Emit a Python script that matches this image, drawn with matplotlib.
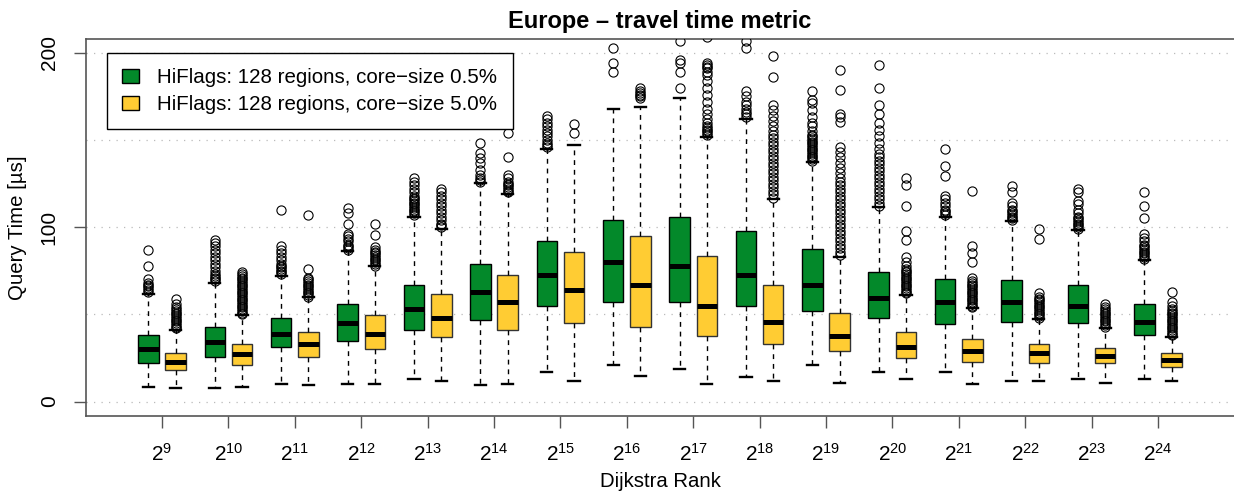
import matplotlib
matplotlib.use("Agg")
import matplotlib.pyplot as plt
from matplotlib.patches import Patch
import numpy as np

# -------------------------------------------------
# Data
# -------------------------------------------------

exponents = [9, 10, 11, 12, 13, 14, 15, 16, 17, 18, 19, 20, 21, 22, 23, 24]

# core-size 0.5% (green)
whislo_g = [8.6, 8.0, 10.1, 10.1, 12.8, 9.2, 17.0, 21.0, 18.9, 13.8, 21.0, 17.0, 17.0, 12.0, 12.8, 12.8]
q1_g = [22.0, 25.8, 31.0, 34.8, 40.9, 46.8, 55.0, 57.0, 57.0, 54.8, 51.8, 47.8, 44.5, 45.8, 44.9, 38.0]
med_g = [30.0, 34.0, 39.0, 44.9, 52.9, 62.9, 72.8, 80.1, 77.9, 72.8, 66.9, 59.4, 57.0, 57.0, 54.8, 45.8]
q3_g = [38.2, 43.0, 48.0, 56.0, 66.9, 78.9, 92.1, 103.9, 106.0, 98.0, 87.3, 74.2, 70.1, 69.7, 66.9, 56.0]
whishi_g = [61.5, 67.8, 72.0, 86.5, 106.0, 125.1, 144.8, 167.9, 173.9, 162.0, 137.5, 111.8, 106.0, 103.7, 98.4, 81.2]
fliers_g = [
    [63, 64, 65, 66, 67, 68, 70, 78, 87],
    [69, 70, 71, 72, 73, 75, 77, 79, 81, 83, 85, 87, 89, 91, 92.5],
    [73, 74, 75, 76, 77, 78, 79, 81, 83, 85, 87, 89, 110],
    [87, 88, 89, 90, 92, 93, 95, 96, 102, 108, 111],
    [107, 108, 109, 110, 111, 112, 113, 114, 115, 116, 117, 118, 120, 122, 124, 126, 128],
    [126, 127, 128, 130, 133, 137, 139.5, 142.5, 148, 164, 193],
    [146, 147, 148, 150, 152, 154, 156, 158, 160, 162, 164],
    [189, 194, 203],
    [180, 189, 194, 196, 207],
    [163, 165, 166, 168, 170, 172, 175, 178, 202.5, 207],
    [138, 139, 140, 141, 142, 143, 144, 145, 146, 147, 148, 149, 150, 151, 152, 153, 155,
     158, 160, 163, 167, 171, 173, 178],
    [112, 114, 116, 118, 120, 122, 124, 126, 128, 130, 132, 134, 136, 138, 140, 142, 145,
     148, 152, 156, 160, 165, 170, 180, 193],
    [107, 108, 109, 110, 112, 114, 116, 118, 129.5, 135, 145],
    [104, 105, 106, 107, 108, 109, 110, 112, 114, 120.3, 123.6],
    [99, 100, 101, 102, 103, 104, 105, 106, 108, 110, 113, 115, 120, 122],
    [82, 83, 84, 85, 86, 87, 88, 89, 90, 92, 94, 96, 105, 112, 120],
]

# core-size 5.0% (yellow)
whislo_y = [8.0, 8.6, 9.2, 10.1, 12.0, 10.1, 12.0, 14.9, 10.0, 12.0, 10.9, 13.0, 10.0, 12.0, 10.9, 12.0]
q1_y = [18.0, 20.8, 25.8, 30.2, 36.9, 40.9, 45.1, 43.0, 37.8, 32.9, 28.9, 24.9, 22.9, 22.0, 22.0, 19.9]
med_y = [22.9, 27.0, 32.9, 39.0, 47.8, 57.0, 64.0, 66.9, 54.8, 45.5, 37.8, 31.0, 29.1, 27.9, 26.0, 23.9]
q3_y = [28.1, 33.1, 40.0, 49.9, 61.9, 72.4, 86.0, 94.8, 83.3, 66.9, 51.0, 40.1, 35.9, 33.1, 30.9, 27.9]
whishi_y = [41.1, 49.7, 59.8, 77.8, 99.2, 119.0, 147.3, 168.9, 151.9, 116.2, 83.1, 61.1, 53.5, 47.4, 42.4, 36.9]
fliers_y = [
    [42, 43, 44, 45, 46, 47, 48, 49, 50, 51, 52, 53, 54, 56, 59],
    [50, 51, 52, 53, 54, 55, 56, 57, 58, 59, 60, 61, 62, 63, 64, 65, 66, 67, 68, 69, 70,
     71, 72, 73, 74.5],
    [60, 61, 62, 63, 64, 65, 66, 67, 68, 69, 70, 71, 76, 107],
    [78, 79, 80, 81, 82, 83, 84, 85, 86, 87, 88.5, 95.5, 102],
    [100, 101, 102, 104, 106, 108, 110, 112, 114, 116, 118, 120, 122],
    [120, 121, 122, 123, 124, 125, 126, 128, 130, 140, 154, 165],
    [154, 159],
    [174, 175, 176, 177, 178, 179.7],
    [153, 154, 155, 156, 157, 158, 160, 162, 165, 168, 172, 176, 180, 184, 187, 189, 191,
     192, 193, 194, 209],
    [117, 119, 121, 123, 125, 127, 129, 131, 133, 135, 137, 139, 141, 143, 145, 147, 149,
     151, 153, 155, 158, 161, 164, 167, 170, 186, 198],
    [84, 86, 88, 90, 92, 94, 96, 98, 100, 102, 104, 106, 108, 110, 112, 114, 116, 118, 120,
     122, 124, 126, 128, 131, 134, 137, 140, 143, 146, 160.5, 163, 165, 178.6, 190],
    [62, 63, 64, 65, 66, 67, 68, 69, 70, 71, 72, 73, 74, 75, 76, 78, 80, 83, 92.7, 97.8,
     112, 124, 128.4],
    [54, 55, 56, 57, 58, 59, 60, 61, 62, 63, 64, 65, 66, 67, 68, 69, 71, 80, 85, 89, 121],
    [48, 49, 50, 51, 52, 53, 54, 55, 56, 57, 58, 59, 60, 62, 93, 99],
    [43, 44, 45, 46, 47, 48, 49, 50, 51, 52, 53, 54, 56],
    [38, 39, 40, 41, 42, 43, 44, 45, 46, 47, 48, 49, 50, 51, 52, 53, 55, 57, 63],
]

series_labels = ["HiFlags: 128 regions, core\u2212size 0.5%",
                 "HiFlags: 128 regions, core\u2212size 5.0%"]

# -------------------------------------------------
# Style
# -------------------------------------------------

plt.rcParams.update({
    "font.family": ["Liberation Sans", "DejaVu Sans"],
    "mathtext.fontset": "custom",
    "mathtext.rm": "Liberation Sans",
    "mathtext.it": "Liberation Sans:italic",
    "mathtext.bf": "Liberation Sans:bold",
})

green = "#03892A"
yellow = "#FFCC33"
frame_col = "#555555"

fig = plt.figure(figsize=(12.34, 4.98), dpi=100)
ax = fig.add_axes([86 / 1234, 1 - 416 / 498, 1148 / 1234, 377 / 498])


def make_stats(lo, q1, med, q3, hi, fl):
    return [dict(whislo=a, q1=b, med=c, q3=d, whishi=e, fliers=f)
            for a, b, c, d, e, f in zip(lo, q1, med, q3, hi, fl)]


pos = np.arange(len(exponents))
offset = 0.205
bw = 0.31

for stats, shift, col, edge in [
    (make_stats(whislo_g, q1_g, med_g, q3_g, whishi_g, fliers_g), -offset, green, "black"),
    (make_stats(whislo_y, q1_y, med_y, q3_y, whishi_y, fliers_y), offset, yellow, "#333333"),
]:
    ax.bxp(
        stats,
        positions=pos + shift,
        widths=bw,
        capwidths=0.17,
        patch_artist=True,
        manage_ticks=False,
        boxprops=dict(facecolor=col, edgecolor=edge, linewidth=1.0),
        medianprops=dict(color="black", linewidth=3.6, solid_capstyle="butt"),
        whiskerprops=dict(color="black", linewidth=1.0, linestyle=(0, (3.5, 3.5))),
        capprops=dict(color="black", linewidth=1.7),
        flierprops=dict(marker="o", markerfacecolor="none", markeredgecolor="black",
                        markersize=6.6, markeredgewidth=0.8),
        zorder=3,
    )

# -------------------------------------------------
# Axes
# -------------------------------------------------

ax.set_xlim(-1.145, 16.145)
ax.set_ylim(-8.3, 207.9)

for y in [0, 50, 100, 150, 200]:
    ax.axhline(y, color="#BBBBBB", linewidth=0.9, linestyle=(0, (1, 5)), zorder=1)

ax.set_yticks([0, 100, 200])
ax.set_yticklabels(["0", "100", "200"], rotation=90, va="center", fontsize=15)
ax.set_xticks(pos)
ax.set_xticklabels([r"$\mathregular{2^{%d}}$" % e for e in exponents], fontsize=15)

ax.tick_params(axis="both", direction="out", length=8.6, width=1.0, color=frame_col)
ax.tick_params(axis="x", pad=11)
ax.tick_params(axis="y", pad=11)

for side in ["left", "top", "bottom"]:
    ax.spines[side].set_color(frame_col)
    ax.spines[side].set_linewidth(1.2)
ax.spines["right"].set_visible(False)

ax.set_xlabel("Dijkstra Rank", fontsize=14.7, labelpad=5)
ax.set_ylabel("Query Time [\u00b5s]", fontsize=14.7, labelpad=9)
ax.set_title("Europe \u2013 travel time metric", fontsize=17, fontweight="bold", pad=8)

handles = [Patch(facecolor=green, edgecolor="black", linewidth=1.0),
           Patch(facecolor=yellow, edgecolor="black", linewidth=1.0)]
leg = ax.legend(
    handles, series_labels,
    loc="upper left",
    bbox_to_anchor=(21 / 1148, 1 - 13.7 / 377),
    borderaxespad=0,
    fontsize=14.8,
    frameon=True,
    fancybox=False,
    framealpha=1.0,
    borderpad=0.75,
    labelspacing=0.38,
    handlelength=0.8,
    handleheight=0.65,
    handletextpad=0.9,
)
leg.get_frame().set_edgecolor("black")
leg.get_frame().set_linewidth(1.0)
leg.set_zorder(5)

fig.savefig("out.png", dpi=100)
